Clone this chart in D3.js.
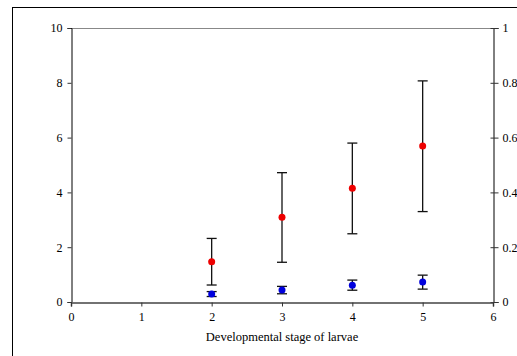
<!DOCTYPE html>
<html lang="en">
<head>
<meta charset="UTF-8">
<title>Developmental stage of larvae</title>
<script src="https://d3js.org/d3.v7.min.js"></script>
<style>
  body { margin: 0; background: #fff; }
  text { font-family: "Liberation Serif", "Times New Roman", serif; fill: #000; }
</style>
</head>
<body>
<svg id="chart" width="517" height="356"></svg>
<script>
  // data
  const stages = [2, 3, 4, 5];
  const redMean = [1.47, 3.09, 4.15, 5.69];
  const redLow = [0.62, 1.45, 2.49, 3.30];
  const redHigh = [2.32, 4.72, 5.80, 8.07];
  const blueMean = [0.029, 0.044, 0.061, 0.073];
  const blueLow = [0.020, 0.030, 0.043, 0.047];
  const blueHigh = [0.038, 0.057, 0.080, 0.098];
  const xTicks = [0, 1, 2, 3, 4, 5, 6];
  const yLeftTicks = [0, 2, 4, 6, 8, 10];
  const yRightTicks = [0, 0.2, 0.4, 0.6, 0.8, 1];

  const svg = d3.select("#chart");
  const plot = { left: 71, right: 493, top: 28, bottom: 302 };

  const x = d3.scaleLinear().domain([0, 6]).range([plot.left, plot.right]);
  const yL = d3.scaleLinear().domain([0, 10]).range([plot.bottom, plot.top]);
  const yR = d3.scaleLinear().domain([0, 1]).range([plot.bottom, plot.top]);

  // outer frame (runs off the right and bottom edges)
  svg.append("rect")
    .attr("x", 12.5).attr("y", 7.5)
    .attr("width", 530).attr("height", 370)
    .attr("fill", "none").attr("stroke", "#000");

  // top border of plot area
  svg.append("line")
    .attr("x1", plot.left).attr("x2", plot.right)
    .attr("y1", plot.top + 0.5).attr("y2", plot.top + 0.5)
    .attr("stroke", "#888");

  // axes
  svg.append("g")
    .attr("transform", `translate(${plot.left + 0.5},0)`)
    .call(d3.axisLeft(yL).tickValues(yLeftTicks).tickSize(4).tickPadding(5).tickFormat(d3.format("d")));

  const rightAxis = svg.append("g")
    .attr("transform", `translate(${plot.right + 0.5},0)`)
    .call(d3.axisRight(yR).tickValues(yRightTicks).tickSize(5).tickPadding(4).tickFormat(d => d));
  rightAxis.selectAll(".tick line").attr("x1", -3);

  const bottomAxis = svg.append("g")
    .attr("transform", `translate(0,${plot.bottom + 0.5})`)
    .call(d3.axisBottom(x).tickValues(xTicks).tickSize(4).tickPadding(6).tickFormat(d3.format("d")));

  svg.selectAll(".domain").attr("stroke", "#000");
  bottomAxis.select(".domain").attr("stroke", "#444").attr("stroke-width", 1.5);
  svg.selectAll(".tick line").attr("stroke", "#333");
  svg.selectAll(".tick text").style("font-size", "12px");

  svg.append("text")
    .attr("x", x(3)).attr("y", 341)
    .attr("text-anchor", "middle")
    .style("font-size", "12.5px")
    .text("Developmental stage of larvae");

  // error bars + points
  function drawSeries(scale, mean, low, high, color) {
    const g = svg.append("g");
    const cap = 5;
    stages.forEach((s, i) => {
      const cx = x(s);
      g.append("line")
        .attr("x1", cx).attr("x2", cx)
        .attr("y1", scale(low[i])).attr("y2", scale(high[i]))
        .attr("stroke", "#111").attr("stroke-width", 1.3);
      [low[i], high[i]].forEach(v => {
        g.append("line")
          .attr("x1", cx - cap).attr("x2", cx + cap)
          .attr("y1", scale(v)).attr("y2", scale(v))
          .attr("stroke", "#111").attr("stroke-width", 1.3);
      });
    });
    g.selectAll("circle")
      .data(stages)
      .enter().append("circle")
      .attr("cx", d => x(d))
      .attr("cy", (d, i) => scale(mean[i]))
      .attr("r", 3.5)
      .attr("fill", color);
  }

  drawSeries(yL, redMean, redLow, redHigh, "#ee0000");
  drawSeries(yR, blueMean, blueLow, blueHigh, "#0000dd");
</script>
</body>
</html>
